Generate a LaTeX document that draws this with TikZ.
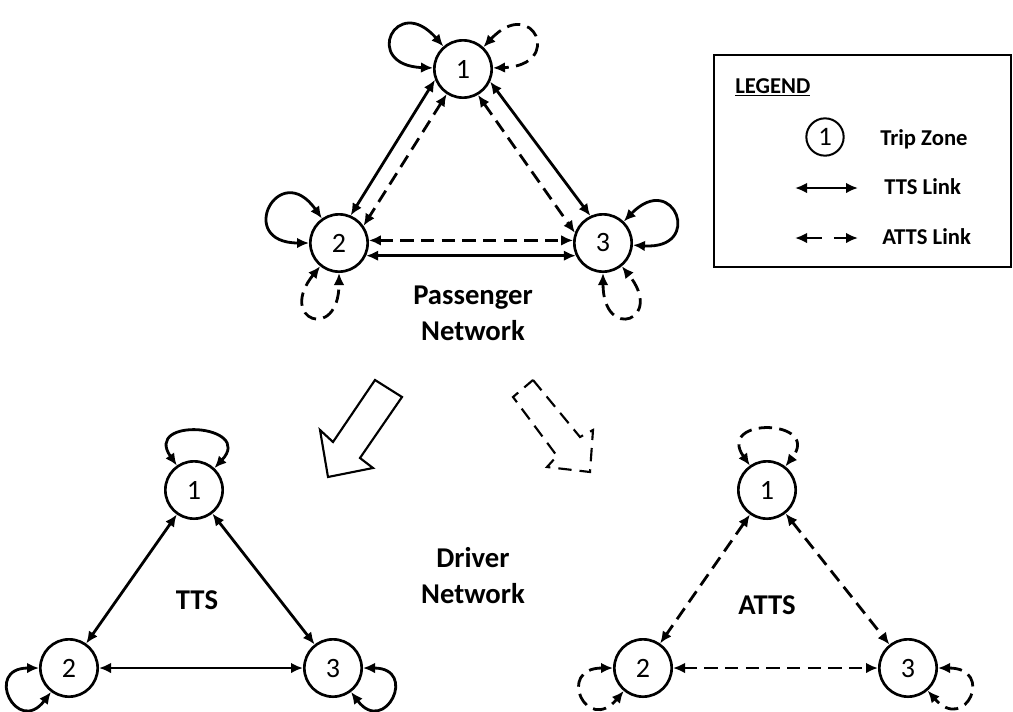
\documentclass[tikz,border=0pt]{standalone}
\usepackage{fontspec}
\setmainfont{Carlito}
\usetikzlibrary{arrows.meta}

\begin{document}
\begin{tikzpicture}[x=0.75pt,y=-0.75pt,
	zone/.style={circle, draw, line width=2pt, minimum size=43pt, inner sep=0pt, font=\fontsize{21}{25}\selectfont},
	tts/.style={line width=2.1pt, {Latex[length=9pt,width=8pt]}-{Latex[length=9pt,width=8pt]}},
	atts/.style={tts, dash pattern={on 10pt off 5.5pt}},
	title/.style={font=\bfseries\fontsize{21.5}{27}\selectfont, align=center, inner sep=0pt},
	key/.style={font=\bfseries\fontsize{17}{20}\selectfont, anchor=west, inner sep=0pt}]
	\useasboundingbox (0,0) rectangle (1013,711);

	%Shape: Circle [passenger network]
	\node [zone] (P1) at (463,69) {1};
	\node [zone] (P2) at (339,243) {2};
	\node [zone] (P3) at (603,243) {3};
	%Straight Lines
	\draw [tts] (P1.201) -- (P2.67);
	\draw [atts] (P1.237) -- (P2.35);
	\draw [tts] (P1.335) -- (P3.115);
	\draw [atts] (P1.300) -- (P3.160);
	\draw [atts] (P2.5) -- (P3.175);
	\draw [tts] (P2.-25) -- (P3.205);
	%Curve Lines
	\draw [tts] (P1.131) to [out=131,in=178,min distance=54pt] (P1.178);
	\draw [atts] (P1.47) to [out=47,in=2,min distance=54pt] (P1.2);
	\draw [tts] (P2.125) to [out=125,in=180,min distance=56pt] (P2.180);
	\draw [atts] (P2.231) to [out=231,in=270,min distance=52pt] (P2.270);
	\draw [tts] (P3.46) to [out=46,in=356,min distance=54pt] (P3.356);
	\draw [atts] (P3.270) to [out=270,in=309,min distance=52pt] (P3.309);

	% Text Node
	\node [title] (pnet) at (473,313) {Passenger\\Network};

	%Shape: Arrows
	\draw [line width=1.6pt, line join=miter] (375,380) -- (402,397) -- (360,458) -- (373,468) -- (328,477) -- (320,430) -- (333,442) -- cycle;
	\draw [line width=1.6pt, line join=miter, dash pattern={on 10pt off 6pt}] (533,380) -- (580,437) -- (593,430) -- (590,472) -- (547,467) -- (557,456) -- (513,397) -- cycle;

	% Text Node
	\node [title] (dnet) at (473,576) {Driver\\Network};

	%Shape: Circle [TTS driver network]
	\node [zone] (T1) at (194,490) {1};
	\node [zone] (T2) at (69,668) {2};
	\node [zone] (T3) at (333,668) {3};
	\draw [tts] (T1) -- (T2);
	\draw [tts] (T1) -- (T3);
	\draw [tts] (T2) -- (T3);
	\draw [tts] (T1.125) to [out=125,in=47,min distance=45pt] (T1.47);
	\draw [tts] (T2.180) to [out=180,in=233,min distance=42pt] (T2.233);
	\draw [tts] (T3.0) to [out=0,in=307,min distance=42pt] (T3.307);
	% Text Node
	\node [title] (ttsl) at (197,600) {TTS};

	%Shape: Circle [ATTS driver network]
	\node [zone] (A1) at (767,490) {1};
	\node [zone] (A2) at (643,668) {2};
	\node [zone] (A3) at (908,668) {3};
	\draw [atts] (A1) -- (A2);
	\draw [atts] (A1) -- (A3);
	\draw [atts] (A2) -- (A3);
	\draw [atts] (A1.125) to [out=125,in=52,min distance=45pt] (A1.52);
	\draw [atts] (A2.180) to [out=180,in=230,min distance=43pt] (A2.230);
	\draw [atts] (A3.0) to [out=0,in=311,min distance=43pt] (A3.311);
	% Text Node
	\node [title] (attsl) at (767,605) {ATTS};

	%Shape: Rectangle [legend]
	\draw [line width=1.5pt] (714,55) rectangle (1011,267);
	\node [key] (lgd) at (735,87) {\underline{LEGEND}};
	\node [circle, draw, line width=1.5pt, minimum size=28pt, inner sep=0pt, font=\fontsize{20}{24}\selectfont] (kzone) at (825,137) {1};
	\node [key] (kzonet) at (880,139) {Trip Zone};
	\coordinate (ktts1) at (795,188);
	\coordinate (ktts2) at (858,188);
	\draw [tts] (ktts1) -- (ktts2);
	\node [key] (kttst) at (884,187) {TTS Link};
	\coordinate (katts1) at (795,238);
	\coordinate (katts2) at (858,238);
	\draw [tts, dash pattern={on 12pt off 9pt}] (katts1) -- (katts2);
	\node [key] (kattst) at (882,237) {ATTS Link};

\end{tikzpicture}
\end{document}
